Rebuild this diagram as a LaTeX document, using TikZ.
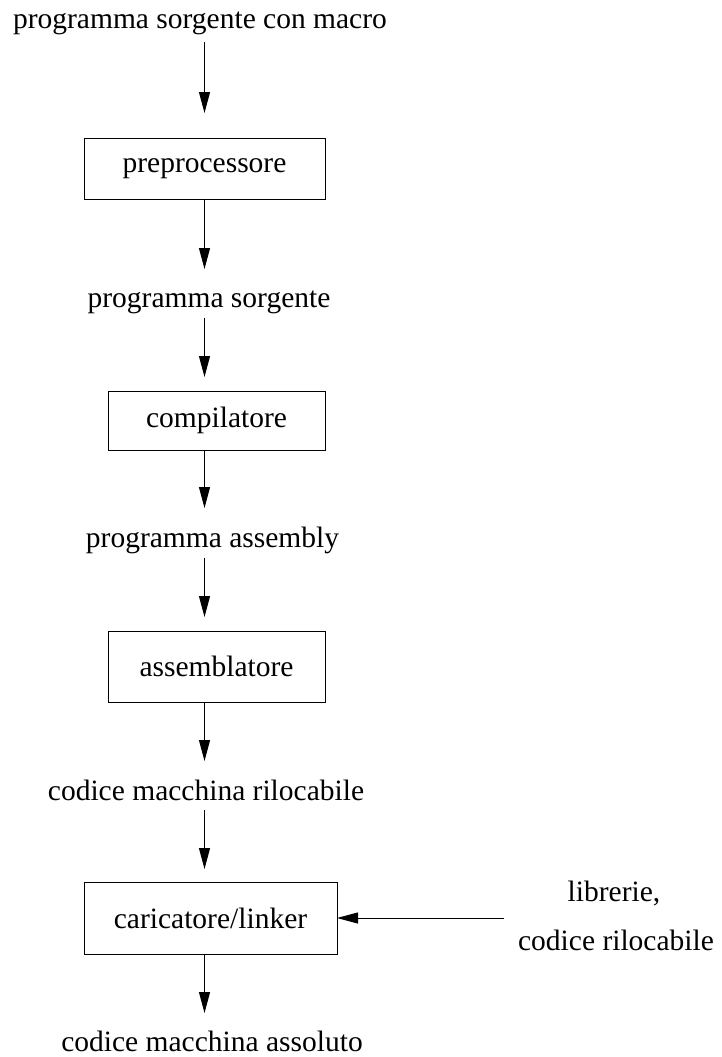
\documentclass[tikz,border=0pt]{standalone}
\usepackage{fontspec}
\setmainfont{Liberation Serif}
\usetikzlibrary{arrows.meta}
\begin{document}
\begin{tikzpicture}[x=1pt,y=-1pt,
  lbl/.style={font=\fontsize{29.5}{35}\selectfont, inner sep=0pt, outer sep=0pt, anchor=base},
  box/.style={draw, line width=1pt, font=\fontsize{29.5}{35}\selectfont, inner sep=0pt, outer sep=0pt},
  arr/.style={line width=1pt, -{Triangle[length=21pt,width=11pt]}}]
\useasboundingbox (0,0) rectangle (722,1057);
\coordinate (X) at (204.5,0);
\node[lbl] (t1) at (200,29) {programma sorgente con macro};
\node[box, minimum width=241pt, minimum height=61pt] (pre) at (204.5,168.5) {preprocessore};
\node[lbl] (t2) at (209,307) {programma sorgente};
\node[box, minimum width=217pt, minimum height=59pt] (comp) at (216.5,420.5) {compilatore};
\node[lbl] (t3) at (212.5,547) {programma assembly};
\node[box, minimum width=217pt, minimum height=71pt] (asm) at (216.5,666.5) {assemblatore};
\node[lbl] (t4) at (206,800) {codice macchina rilocabile};
\node[box, minimum width=253pt, minimum height=72pt] (car) at (210.5,918) {caricatore/linker};
\node[lbl] (lib1) at (614,901) {librerie,};
\node[lbl] (lib2) at (616,950) {codice rilocabile};
\node[lbl] (t5) at (212,1051) {codice macchina assoluto};
\coordinate (libin) at (504,918);
\draw[arr, shorten <=13pt, shorten >=25pt] (t1.base -| X) -- (pre.north -| X);
\draw[arr, shorten >=38pt] (pre.south -| X) -- (t2.base -| X);
\draw[arr, shorten <=11pt, shorten >=14pt] (t2.base -| X) -- (comp.north -| X);
\draw[arr, shorten >=39pt] (comp.south -| X) -- (t3.base -| X);
\draw[arr, shorten <=11pt, shorten >=14pt] (t3.base -| X) -- (asm.north -| X);
\draw[arr, shorten >=39pt] (asm.south -| X) -- (t4.base -| X);
\draw[arr, shorten <=10pt, shorten >=13pt] (t4.base -| X) -- (car.north -| X);
\draw[arr, shorten >=38pt] (car.south -| X) -- (t5.base -| X);
\draw[arr] (libin) -- (car.east);
\end{tikzpicture}
\end{document}
